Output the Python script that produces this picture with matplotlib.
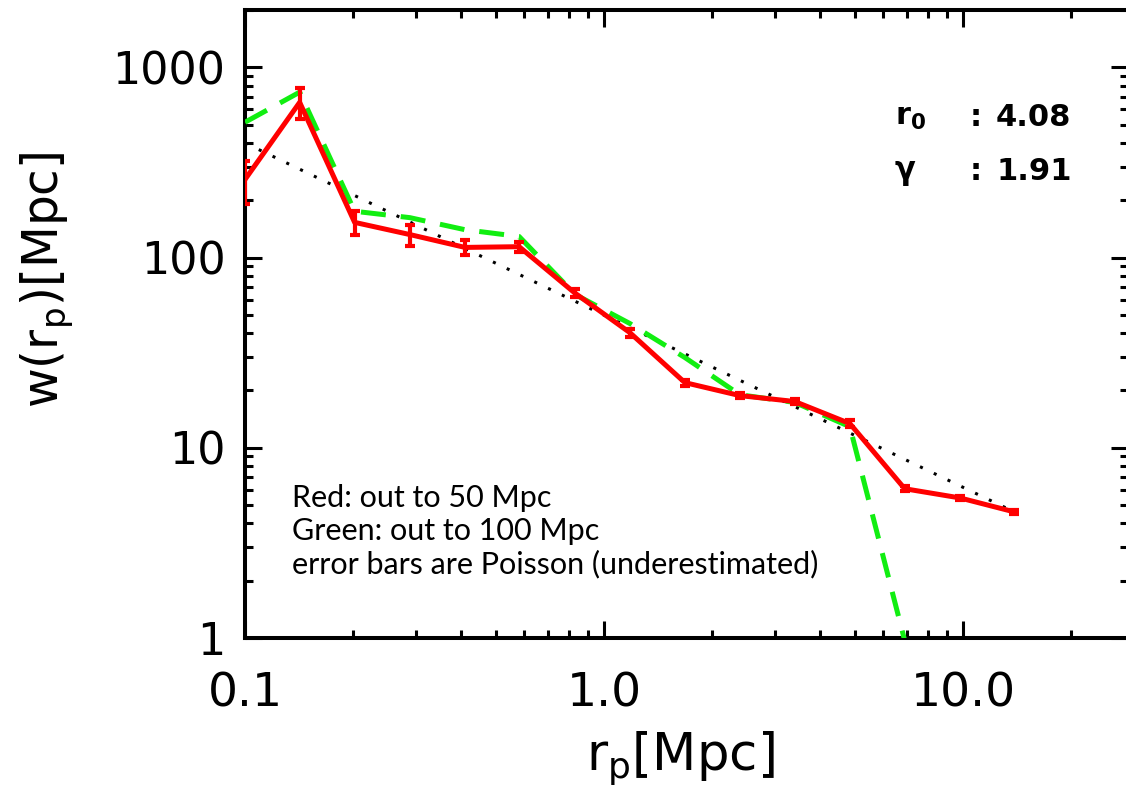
import matplotlib
matplotlib.use("Agg")
import numpy as np
import matplotlib.pyplot as plt
from matplotlib.ticker import LogLocator, FixedLocator, FixedFormatter, NullFormatter

# projected separation bins [Mpc]
rp = [0.1, 0.142, 0.202, 0.288, 0.41, 0.58, 0.83, 1.18, 1.68, 2.39, 3.4, 4.84, 6.88, 9.8, 13.9]

# red: out to 50 Mpc, with Poisson errors
w_red = [257, 654, 153, 132, 113, 114, 65, 40.3, 22.0, 18.8, 17.5, 13.4, 6.09, 5.45, 4.6]
err_red = [65, 120, 22, 17, 10, 7, 3, 2, 0.8, 0.6, 0.6, 0.6, 0.2, 0.15, 0.1]

# green: out to 100 Mpc
w_green = [514, 740, 175, 162, 140, 129, 64, 45, 29.8, 19.0, 17.3, 12.9, 0.97, 0.3, 0.2]

# power-law fit
fit_x = [0.1, 13.9]
fit_y = [400, 4.6]

fit_labels = [("$\\mathbf{r_0}$", "4.08"), ("γ", "1.91")]
notes = ["Red: out to 50 Mpc", "Green: out to 100 Mpc",
         "error bars are Poisson (underestimated)"]

W, H = 1126, 795
fig = plt.figure(figsize=(W / 100, H / 100), dpi=100)
ax = fig.add_axes([245 / W, (H - 638) / H, (1128 - 245) / W, (638 - 10) / H])

ax.set_xscale("log")
ax.set_yscale("log")
ax.set_xlim(0.1, 10 ** ((1128 - 245) / 359 - 1))
ax.set_ylim(1, 2000)

ax.plot(fit_x, fit_y, color="black", lw=2.2, linestyle=(0, (1, 4)), zorder=2)
ax.plot(rp, w_green, color="#11ee11", lw=3.6, dashes=(5, 3), zorder=3)
ax.errorbar(rp, w_red, yerr=err_red, color="red", lw=3.6, elinewidth=3,
            capsize=3.5, capthick=3, zorder=4)

for s in ax.spines.values():
    s.set_linewidth(2.9)

ax.xaxis.set_major_locator(FixedLocator([0.1, 1.0, 10.0]))
ax.xaxis.set_major_formatter(FixedFormatter(["0.1", "1.0", "10.0"]))
ax.yaxis.set_major_locator(FixedLocator([1, 10, 100, 1000]))
ax.yaxis.set_major_formatter(FixedFormatter(["1", "10", "100", "1000"]))
ax.xaxis.set_minor_locator(LogLocator(base=10, subs=np.arange(2, 10), numticks=20))
ax.yaxis.set_minor_locator(LogLocator(base=10, subs=np.arange(2, 10), numticks=20))
ax.xaxis.set_minor_formatter(NullFormatter())
ax.yaxis.set_minor_formatter(NullFormatter())

ax.tick_params(which="both", direction="in", top=True, right=True, width=2.2)
ax.tick_params(which="major", length=12)
ax.tick_params(which="minor", length=6)
ax.tick_params(axis="y", which="major", labelsize=32, pad=14)
ax.tick_params(axis="x", which="major", labelsize=34, pad=24)

fig.text(680 / W, 1 - 758 / H, "r$_\\mathregular{p}$[Mpc]", fontsize=37,
         ha="center", va="center")
fig.text(47 / W, 1 - 280 / H, "w(r$_\\mathregular{p}$)[Mpc]", fontsize=35,
         rotation=90, ha="center", va="center")

for i, (name, val) in enumerate(fit_labels):
    yy = 1 - (118 + 54 * i) / H
    fig.text(895 / W, yy, name, fontsize=22, fontweight="bold", va="center")
    fig.text(970 / W, yy, ":", fontsize=22, fontweight="bold", va="center")
    fig.text(996 / W, yy, val, fontsize=22, fontweight="bold", va="center")

for i, line in enumerate(notes):
    fig.text(292 / W, 1 - (498 + 33 * i) / H, line, fontsize=22,
             family="Lato", va="center")

fig.savefig("out.png", dpi=100)
